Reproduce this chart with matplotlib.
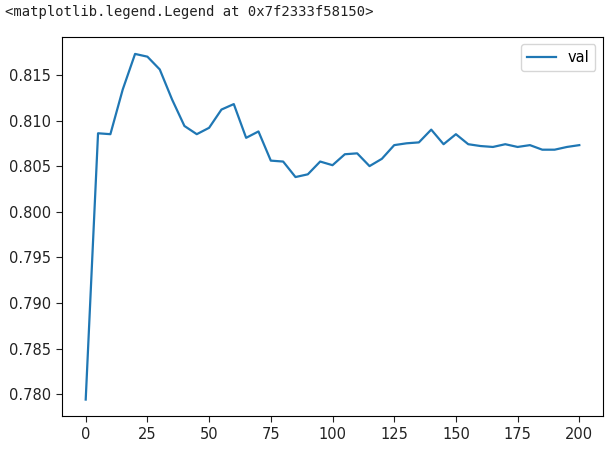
import numpy as np
import matplotlib.pyplot as plt

# epochs and validation score
epochs = list(range(0, 201, 5))
val = [
    0.7794, 0.8086, 0.8085, 0.8134, 0.8173, 0.8170, 0.8156, 0.8123, 0.8094, 0.8085,
    0.8092, 0.8112, 0.8118, 0.8081, 0.8088, 0.8056, 0.8055, 0.8038, 0.8041, 0.8055,
    0.8051, 0.8063, 0.8064, 0.8050, 0.8058, 0.8073, 0.8075, 0.8076, 0.8090, 0.8074,
    0.8085, 0.8074, 0.8072, 0.8071, 0.8074, 0.8071, 0.8073, 0.8068, 0.8068, 0.8071,
    0.8073,
]

fig = plt.figure(figsize=(6.11, 4.53), dpi=100)
ax = fig.add_axes([0.1015, 0.0817, 0.885, 0.8375])

ax.plot(epochs, val, color="#1f77b4", linewidth=1.6, label="val")
ax.set_xlim(-9.6, 209.5)
ax.set_ylim(0.7776, 0.8192)
ax.set_xticks(np.arange(0, 201, 25))
ax.set_yticks(np.arange(0.780, 0.8151, 0.005))
ax.yaxis.set_major_formatter(plt.FormatStrFormatter("%.3f"))
ax.tick_params(labelsize=10.5, colors="#222222", length=4.5)
ax.legend(loc="upper right", fontsize=10.5)

# jupyter cell output line above the plot
fig.text(0.008, 0.988, "<matplotlib.legend.Legend at 0x7f2333f58150>",
         family="DejaVu Sans Mono", fontsize=10, va="top", ha="left", color="#222222")

fig.savefig("out.png", dpi=100)
